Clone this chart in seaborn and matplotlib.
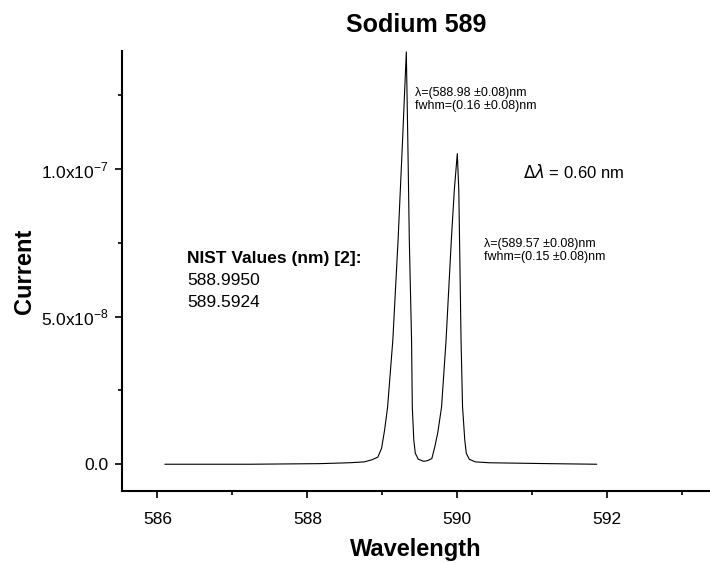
import numpy as np
import matplotlib
matplotlib.use("Agg")
import matplotlib.pyplot as plt
from matplotlib.ticker import MultipleLocator, FuncFormatter
import seaborn as sns

# spectrum (wavelength in nm, current in units of 1e-8)
wavelength = [586.10, 587.23, 588.16, 588.56, 588.76, 588.86, 588.94, 588.99,
              589.03, 589.07, 589.14, 589.21, 589.27, 589.32, 589.34, 589.36,
              589.39, 589.40, 589.42, 589.44, 589.48, 589.55, 589.60, 589.66,
              589.70, 589.74, 589.79, 589.85, 589.92, 589.96, 590.00, 590.02,
              590.03, 590.05, 590.07, 590.10, 590.12, 590.16, 590.24, 590.43,
              591.23, 591.86]
current_e8 = [0.00, 0.00, 0.02, 0.05, 0.08, 0.15, 0.24, 0.54,
              1.15, 1.93, 4.20, 7.59, 10.98, 13.98, 10.98, 7.59,
              4.20, 1.93, 0.81, 0.37, 0.17, 0.10, 0.12, 0.19,
              0.59, 1.08, 1.94, 4.20, 7.59, 9.29, 10.53, 9.29,
              7.59, 4.20, 1.94, 0.81, 0.37, 0.17, 0.08, 0.05,
              0.02, 0.00]
current = [c * 1e-8 for c in current_e8]

peak_labels = ["\u03bb=(588.98 \u00b10.08)nm\nfwhm=(0.16 \u00b10.08)nm",
               "\u03bb=(589.57 \u00b10.08)nm\nfwhm=(0.15 \u00b10.08)nm"]
nist_values = ["588.9950", "589.5924"]
delta_text = r"$\Delta\lambda$ = 0.60 nm"

sns.set_theme(style="ticks")
plt.rcParams['font.family'] = ['Liberation Sans', 'DejaVu Sans']
plt.rcParams['mathtext.fontset'] = 'dejavusans'
plt.rcParams['text.color'] = 'black'
plt.rcParams['axes.labelcolor'] = 'black'

fig = plt.figure(figsize=(7.1, 5.63), dpi=100)
ax = fig.add_axes([0.172, 0.128, 0.828, 0.781])

sns.lineplot(x=wavelength, y=current, color='black', linewidth=0.8,
             sort=False, estimator=None, ax=ax)

ax.set_xlim(585.53, 593.37)
ax.set_ylim(-0.905e-8, 14.0e-8)

ax.xaxis.set_major_locator(MultipleLocator(2))
ax.xaxis.set_minor_locator(MultipleLocator(1))
ax.yaxis.set_major_locator(MultipleLocator(5e-8))
ax.yaxis.set_minor_locator(MultipleLocator(2.5e-8))


def fmt_y(v, pos):
    if abs(v) < 1e-12:
        return "0.0"
    exp = int(np.floor(np.log10(abs(v))))
    mant = v / 10 ** exp
    return r"%.1fx10$^{\mathregular{%d}}$" % (mant, exp)


ax.yaxis.set_major_formatter(FuncFormatter(fmt_y))
ax.xaxis.set_major_formatter(FuncFormatter(lambda v, p: "%d" % v))

ax.tick_params(which='major', direction='out', length=5, width=1.2,
               labelsize=12.5, colors='black')
ax.tick_params(which='minor', direction='out', length=3, width=1.2,
               colors='black')
ax.tick_params(axis='x', pad=10)
ax.tick_params(axis='y', pad=5)

for side in ['left', 'bottom']:
    ax.spines[side].set_linewidth(1.5)
    ax.spines[side].set_color('black')
sns.despine(ax=ax)

ax.set_title("Sodium 589", fontsize=18, fontweight='bold', pad=14)
ax.set_xlabel("Wavelength", fontsize=17, fontweight='bold', labelpad=8)
ax.set_ylabel("Current", fontsize=17, fontweight='bold', labelpad=3)

# annotations
ax.text(589.43, 12.37e-8, peak_labels[0], fontsize=9, va='center',
        ha='left', linespacing=1.05)
ax.text(590.36, 7.25e-8, peak_labels[1], fontsize=9, va='center',
        ha='left', linespacing=1.05)
ax.text(590.87, 9.90e-8, delta_text, fontsize=12, va='center', ha='left')
ax.text(586.40, 6.98e-8, "NIST Values (nm) [2]:", fontsize=12.5,
        fontweight='bold', va='center', ha='left')
ax.text(586.40, 6.24e-8, nist_values[0], fontsize=12.5, va='center', ha='left')
ax.text(586.40, 5.49e-8, nist_values[1], fontsize=12.5, va='center', ha='left')

fig.savefig("out.png", dpi=100)
